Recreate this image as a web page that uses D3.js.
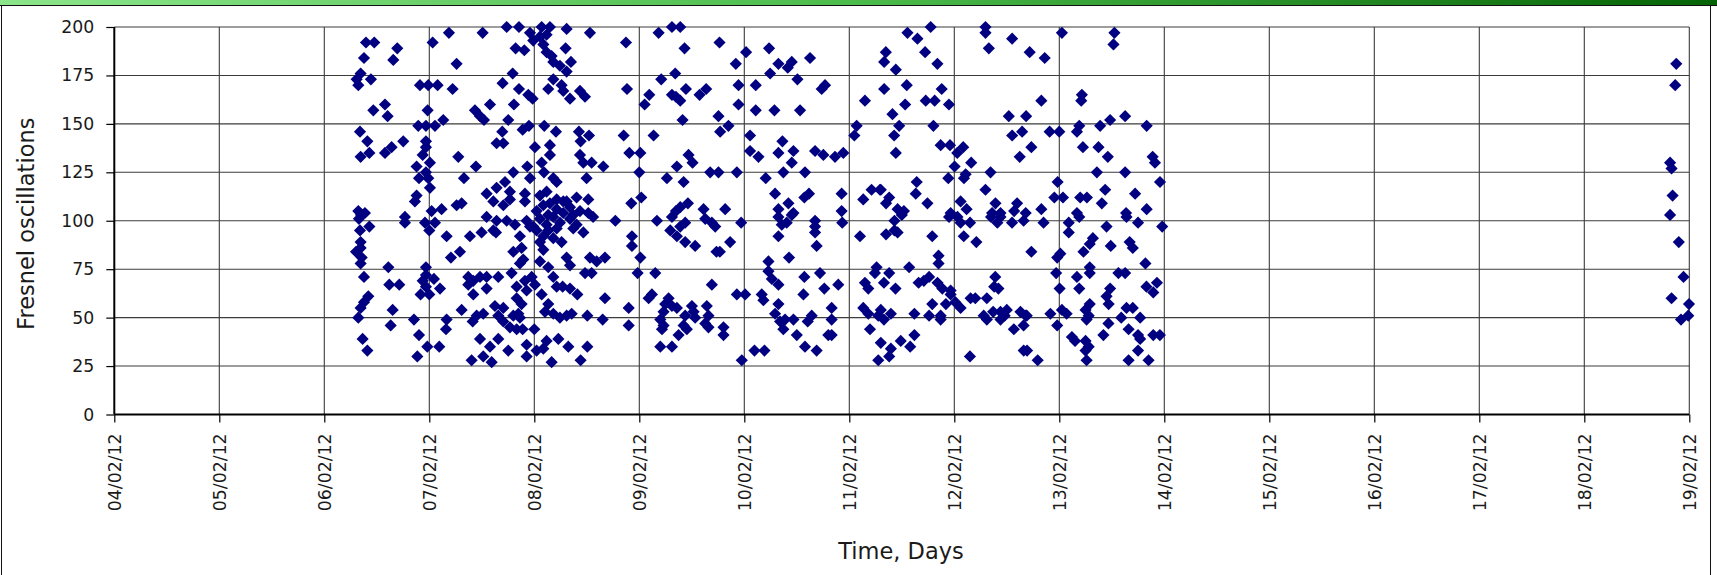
<!DOCTYPE html>
<html>
<head>
<meta charset="utf-8">
<script src="https://cdn.jsdelivr.net/npm/d3@7"></script>
<style>
  html, body { margin: 0; padding: 0; background: #ffffff; }
  svg { display: block; font-family: "DejaVu Sans", Verdana, sans-serif; }
</style>
</head>
<body>
<svg id="chart" width="1717" height="575"></svg>
<script>
// Axis ticks
const valueTicks = [0, 25, 50, 75, 100, 125, 150, 175, 200];
const dayTickLabels = ["04/02/12", "05/02/12", "06/02/12", "07/02/12", "08/02/12",
  "09/02/12", "10/02/12", "11/02/12", "12/02/12", "13/02/12", "14/02/12",
  "15/02/12", "16/02/12", "17/02/12", "18/02/12", "19/02/12"];

// Observations: [day of February 2012 (fractional), Fresnel oscillations]
const feb06 = [
  [6.397,192],[6.476,192],[6.695,189],[6.378,184],[6.657,183],[6.346,176],[6.308,173],[6.324,170],[6.444,173],
  [6.467,157],[6.578,160],[6.603,154],[6.340,146],[6.410,141],[6.429,135],[6.346,133],[6.578,135],[6.641,138],[6.752,141],
  [6.968,141],[6.968,138],[6.937,134],[6.911,170],[6.990,170],[6.895,149],[6.968,149],[6.984,157],[6.879,128],[6.968,125],
  [6.902,122],[6.990,122],[6.879,113],[6.863,110],[6.324,105],[6.387,104],[6.768,102],
  [6.340,95],[6.429,97],[6.346,89],[6.346,86],[6.302,84],[6.356,81],[6.346,78],[6.768,99],[6.610,76],[6.378,71],[6.619,67],[6.714,67],
  [6.968,76],[6.968,72],[6.937,69],[6.968,66],[6.917,62],[6.959,99],
  [6.419,61],[6.378,58],[6.346,55],[6.324,50],[6.651,54],[6.632,46],[6.365,39],[6.410,33],[6.854,49],[6.902,41],[6.886,30],[6.981,35],
  [6.330,101],[6.350,103]
];
const feb07 = [
  [7.032,192],[7.187,197],[7.508,197],[7.260,181],[7.079,170],[7.222,168],[7.435,157],[7.483,154],[7.521,152],[7.578,160],[7.806,160],
  [7.054,149],[7.133,152],[7.752,152],[7.889,147],[7.949,149],[7.276,133],[7.444,128],[7.695,146],[7.641,140],[7.705,140],
  [7.737,200],[7.854,200],[7.822,189],[7.905,188],[7.959,197],[7.990,193],[7.794,176],[7.698,171],[7.854,168],[7.943,165],[7.984,163],
  [7.800,125],[7.933,128],[7.959,122],[7.330,122],[7.546,114],[7.641,117],[7.721,120],[7.768,115],[7.610,110],[7.705,108],[7.768,111],[7.911,114],[7.911,110],
  [7.022,105],[7.117,106],[7.260,108],[7.308,109],[7.006,130],[7.006,117],
  [7.000,95],[7.054,99],[7.044,70],[7.102,65],[7.095,35],[7.165,92],[7.206,81],[7.292,84],[7.387,92],[7.498,94],[7.635,94],
  [7.546,102],[7.641,100],[7.737,100],[7.816,98],[7.863,92],[7.610,95],[7.927,100],[7.959,97],[7.990,97],
  [7.800,84],[7.879,86],[7.895,80],[7.863,78],[7.165,49],[7.159,44],[7.308,54],
  [7.371,71],[7.419,69],[7.483,71],[7.546,71],[7.657,71],[7.371,67],[7.419,62],[7.546,65],
  [7.413,48],[7.451,51],[7.514,52],[7.483,39],[7.578,35],[7.657,39],[7.403,28],[7.514,30],[7.594,27],[7.752,33],
  [7.625,56],[7.705,55],[7.657,51],[7.705,48],[7.768,45],[7.832,44],[7.889,44],[7.800,51],
  [7.784,73],[7.832,66],[7.911,69],[7.975,71],[7.927,64],[7.832,60],[7.879,57],[7.848,52],[7.863,50],[7.927,36],[7.927,30],[7.000,62]
];
const feb08 = [
  [8.070,200],[8.149,200],[8.308,199],[8.530,197],[8.054,195],[8.117,196],[8.086,191],[8.117,187],[8.165,185],[8.181,182],[8.244,180],[8.308,177],[8.298,189],[8.349,182],
  [8.133,168],[8.181,173],[8.260,170],[8.276,167],[8.340,163],[8.435,167],[8.483,164],
  [8.095,149],[8.206,146],[8.425,146],[8.441,141],[8.521,144],[8.006,138],[8.149,139],[8.149,134],[8.070,130],
  [8.435,134],[8.467,130],[8.546,130],[8.657,128],[8.092,125],[8.181,122],[8.213,120],[8.498,122],
  [8.054,113],[8.117,115],[8.213,111],[8.276,110],[8.403,112],[8.514,111],
  [8.022,105],[8.086,108],[8.133,103],[8.213,106],[8.276,104],[8.340,107],[8.371,103],[8.435,105],[8.514,104],[8.560,102],[8.149,109],[8.308,110],
  [8.006,67],[8.022,95],[8.054,89],[8.086,85],[8.054,79],[8.133,76],[8.260,89],[8.308,81],[8.340,77],[8.467,94],[8.530,81],[8.594,79],[8.673,81],[8.483,73],[8.546,73],
  [8.022,33],[8.086,34],[8.117,38],[8.165,27],[8.229,39],[8.000,44],[8.070,62],[8.133,57],[8.102,53],
  [8.181,71],[8.213,66],[8.270,66],[8.340,65],[8.410,62],[8.181,52],[8.244,50],[8.308,51],[8.356,52],
  [8.324,35],[8.441,28],[8.505,35],[8.505,51],[8.651,49],[8.673,60],
  [8.054,101],[8.117,98],[8.181,102],[8.244,99],[8.340,101],[8.403,98],[8.213,96],[8.371,96],[8.133,95],[8.086,92],[8.181,91],
  [8.873,192],[8.883,168],[8.851,144],[8.905,135],[8.924,109],[8.772,100],[8.930,92],[8.930,87],[8.984,73],[8.899,55],[8.899,46]
];
const feb09 = [
  [9.184,197],[9.311,200],[9.390,200],[9.431,189],[9.764,192],[9.919,181],[9.209,173],[9.342,176],[9.095,165],[9.051,160],[9.311,165],[9.349,164],[9.390,162],[9.444,168],[9.574,165],[9.637,168],[9.945,170],[9.945,160],
  [9.412,152],[9.754,154],[9.770,146],[9.849,149],[9.136,144],[9.010,135],[9.469,134],[9.507,130],[9.358,128],
  [9.000,125],[9.263,122],[9.422,120],[9.675,125],[9.754,125],[9.929,125],[9.019,112],[9.349,105],[9.390,107],[9.463,109],[9.612,106],[9.818,106],
  [9.168,100],[9.311,102],[9.437,99],[9.390,97],[9.295,95],[9.358,92],[9.437,89],[9.532,87],[9.628,101],[9.691,99],[9.723,97],[9.970,99],[9.865,89],[9.735,84],[9.767,84],[9.010,81],[9.152,73],[9.691,67],[9.929,62],[9.120,62],[9.089,60],
  [9.279,60],[9.247,57],[9.311,56],[9.231,53],[9.358,55],[9.200,49],[9.231,46],[9.216,44],[9.437,51],[9.517,53],[9.532,50],[9.501,56],[9.422,46],[9.453,44],[9.374,41],[9.643,56],[9.659,51],[9.628,47],[9.659,45],[9.200,35],[9.311,35],[9.802,45],[9.802,41],[9.976,28]
];
const feb10 = [
  [10.017,187],[10.236,189],[10.325,181],[10.414,179],[10.452,182],[10.626,184],[10.246,176],[10.506,173],[10.769,170],[10.737,168],[10.109,170],[10.109,157],[10.287,157],[10.531,157],
  [10.055,144],[10.055,136],[10.135,133],[10.363,141],[10.325,135],[10.468,136],[10.452,130],[10.674,136],[10.753,134],[10.864,133],[10.943,135],
  [10.204,122],[10.372,125],[10.578,125],[10.293,114],[10.572,112],[10.616,114],[10.927,114],[10.325,106],[10.420,109],[10.468,104],[10.927,105],
  [10.008,62],[10.097,33],[10.192,33],[10.325,102],[10.404,99],[10.452,103],[10.357,98],[10.674,100],[10.674,97],[10.674,94],[10.933,99],[10.325,92],[10.689,87],[10.426,81],
  [10.230,79],[10.230,74],[10.262,70],[10.325,67],[10.166,62],[10.182,59],[10.325,57],[10.293,52],[10.341,48],[10.372,44],[10.388,49],[10.468,49],[10.500,41],[10.578,35],[10.689,33],
  [10.572,71],[10.563,62],[10.721,73],[10.762,65],[10.895,67],[10.832,55],[10.642,51],[10.604,48],[10.832,49],[10.832,41],[10.800,41]
];
const feb11 = [
  [11.149,162],[11.070,149],[11.048,144],[11.133,111],[11.212,116],[11.292,116],
  [11.102,92],[11.260,76],[11.244,73],[11.149,68],[11.181,65],[11.133,55],[11.181,52],[11.276,51],[11.197,44],[11.276,28],
  [11.554,197],[11.649,194],[11.775,200],[11.348,187],[11.332,182],[11.443,178],[11.722,187],[11.839,181],[11.332,168],[11.547,170],[11.880,168],[11.728,162],[11.813,162],[11.532,160],[11.949,160],[11.411,155],[11.475,149],[11.427,144],[11.443,135],[11.801,149],[11.870,139],[11.959,139],[11.943,122],[11.642,120],[11.633,114],[11.300,116],[11.380,112],[11.350,109],[11.460,106],[11.520,105],[11.744,109],[11.965,104],
  [11.430,100],[11.500,103],[11.350,93],[11.430,95],[11.460,94],[11.790,92],[11.950,102],
  [11.850,82],[11.850,78],[11.570,76],[11.380,73],[11.330,68],[11.440,65],[11.660,68],[11.710,69],[11.760,71],[11.840,68],[11.886,65],[11.965,64],[11.965,62],[11.920,57],[11.790,57],[11.760,51],[11.870,51],[11.870,49],[11.620,52],[11.300,54],[11.396,52],[11.330,49],[11.300,37],[11.396,34],[11.380,30],[11.490,38],[11.580,35],[11.620,41]
];
const feb12 = [
  [12.028,135],[12.085,138],[12.003,128],[12.161,130],[12.108,124],[12.092,122],[12.345,125],[12.297,116],[12.297,200],[12.297,197],[12.329,189],[12.551,194],[12.718,187],[12.861,184],
  [12.519,154],[12.684,154],[12.829,162],[12.551,144],[12.646,146],[12.734,138],[12.623,133],[12.908,146],[12.984,120],[12.953,112],
  [12.392,109],[12.598,109],[12.829,106],[12.060,110],[12.117,106],[12.360,104],[12.440,104],[12.570,105],[12.680,104],
  [12.030,102],[12.060,99],[12.150,99],[12.090,92],[12.210,89],[12.350,102],[12.410,99],[12.440,102],[12.550,99],[12.660,100],[12.850,99],[12.734,84],[12.980,81],
  [12.010,58],[12.060,55],[12.149,30],[12.155,60],[12.200,60],[12.310,60],[12.390,71],[12.380,66],[12.420,65],
  [12.280,51],[12.310,49],[12.370,53],[12.440,53],[12.480,51],[12.440,49],[12.500,54],[12.567,44],[12.630,53],[12.680,51],[12.660,46],[12.690,51],[12.661,33],[12.693,33],[12.794,28],[12.915,52],[12.980,46],[12.970,73]
];
const feb13 = [
  [13.025,197],[13.525,197],[13.516,191],[13.000,146],[13.215,165],[13.209,162],[13.168,146],[13.190,149],[13.389,149],[13.484,152],[13.627,154],[13.832,149],[13.225,138],[13.373,138],[13.462,133],[13.889,133],[13.911,130],[13.358,125],[13.627,125],[13.959,120],[13.437,116],[13.722,114],[13.035,112],[13.199,112],[13.263,112],[13.405,109],[13.832,106],[13.636,104],[13.168,104],
  [13.090,99],[13.190,102],[13.090,94],[13.010,83],[13.450,97],[13.320,91],[13.290,88],[13.230,84],[13.490,87],[13.640,102],[13.750,99],[13.670,89],[13.700,86],[13.980,97],[13.820,78],
  [13.025,54],[13.070,52],[13.003,65],[13.168,71],[13.190,65],[13.290,76],[13.290,73],[13.120,40],[13.150,38],[13.250,38],[13.280,35],[13.250,33],[13.260,28],[13.250,54],[13.280,51],[13.260,49],[13.290,57],[13.420,41],[13.468,47],[13.484,65],[13.450,61],[13.470,57],[13.563,73],[13.627,73],[13.640,55],[13.700,55],[13.590,50],[13.660,44],[13.770,50],[13.750,41],[13.770,39],[13.750,33],[13.660,28],[13.850,28],[13.830,66],[13.895,63],[13.930,68],[13.895,41],[13.958,41]
];
const feb18 = [
  [18.876,181],[18.866,170],[18.817,130],[18.831,127],[18.841,113],[18.817,103],[18.900,89],[18.945,71],[18.831,60],[18.997,57],[18.990,51],[18.921,49]
];

const DAY_MS = 864e5;
const febDate = d => new Date(Date.UTC(2012, 1, 1) + (d - 1) * DAY_MS);
const points = [feb06, feb07, feb08, feb09, feb10, feb11, feb12, feb13, feb18]
  .flat().map(([d, v]) => ({ t: febDate(d), v }));
const dayTicks = dayTickLabels.map(s => {
  const [dd, mm, yy] = s.split("/").map(Number);
  return new Date(Date.UTC(2000 + yy, mm - 1, dd));
});

const W = 1717, H = 575;
const plot = { left: 114.3, right: 1689.3, top: 27, bottom: 414.5 };

const svg = d3.select("#chart");

// Header band
const defs = svg.append("defs");
const grad = defs.append("linearGradient").attr("id", "band").attr("x1", "0").attr("x2", "1").attr("y1", "0").attr("y2", "0");
grad.append("stop").attr("offset", "0%").attr("stop-color", "#8be58a");
grad.append("stop").attr("offset", "50%").attr("stop-color", "#4bbb4b");
grad.append("stop").attr("offset", "100%").attr("stop-color", "#056305");
svg.append("rect").attr("x", 0).attr("y", 0).attr("width", W).attr("height", 5).attr("fill", "url(#band)");
svg.append("line").attr("x1", 0).attr("x2", W).attr("y1", 5.5).attr("y2", 5.5).attr("stroke", "#111").attr("stroke-width", 1);

// Panel frame
svg.append("line").attr("x1", 1.5).attr("x2", 1.5).attr("y1", 6).attr("y2", H).attr("stroke", "#111");
svg.append("line").attr("x1", 1710.5).attr("x2", 1710.5).attr("y1", 6).attr("y2", H).attr("stroke", "#111");

const x = d3.scaleUtc().domain([dayTicks[0], dayTicks[dayTicks.length - 1]]).range([plot.left, plot.right]);
const y = d3.scaleLinear().domain([0, 200]).range([plot.bottom, plot.top]);

// Grid
const grid = svg.append("g").attr("stroke", "#3c3c3c").attr("stroke-width", 1.1);
grid.selectAll("line.h").data(valueTicks.slice(1)).join("line")
  .attr("x1", plot.left).attr("x2", plot.right)
  .attr("y1", d => y(d)).attr("y2", d => y(d));
grid.selectAll("line.v").data(dayTicks.slice(1)).join("line")
  .attr("x1", d => x(d)).attr("x2", d => x(d))
  .attr("y1", plot.top).attr("y2", plot.bottom);

// Axes
const fmt = d3.utcFormat("%d/%m/%y");
const xAxis = svg.append("g").attr("transform", `translate(0,${plot.bottom})`)
  .call(d3.axisBottom(x).tickValues(dayTicks).tickSize(8).tickFormat(fmt));
xAxis.selectAll("text")
  .attr("transform", "rotate(-90)")
  .attr("text-anchor", "end")
  .attr("x", -19).attr("y", 0).attr("dy", "0.36em");

const yAxis = svg.append("g").attr("transform", `translate(${plot.left},0)`)
  .call(d3.axisLeft(y).tickValues(valueTicks).tickSize(8).tickPadding(12));

[xAxis, yAxis].forEach(g => {
  g.select(".domain").attr("stroke", "#000").attr("stroke-width", 2);
  g.selectAll(".tick line").attr("stroke", "#000").attr("stroke-width", 1.2);
  g.selectAll("text").attr("fill", "#1a1a1a").style("font-size", "17.3px")
    .style("font-family", "'DejaVu Sans', sans-serif");
});
xAxis.select(".domain").attr("d", `M${plot.left},0H${plot.right}`);
yAxis.select(".domain").attr("d", `M0,${plot.bottom}V${plot.top}`);

// Titles
svg.append("text").attr("x", 901).attr("y", 559).attr("text-anchor", "middle")
  .attr("fill", "#1a1a1a").style("font-size", "22.5px").text("Time, Days");
svg.append("text").attr("transform", `translate(34,${(plot.top + plot.bottom) / 2 + 3}) rotate(-90)`)
  .attr("text-anchor", "middle").attr("fill", "#1a1a1a").style("font-size", "22.5px")
  .text("Fresnel oscillations");

// Markers
const diamond = d3.symbol().type(d3.symbolSquare).size(74);
svg.append("g").selectAll("path").data(points).join("path")
  .attr("d", diamond)
  .attr("transform", d => `translate(${x(d.t)},${y(d.v)}) rotate(45)`)
  .attr("fill", "#000080");
</script>
</body>
</html>
